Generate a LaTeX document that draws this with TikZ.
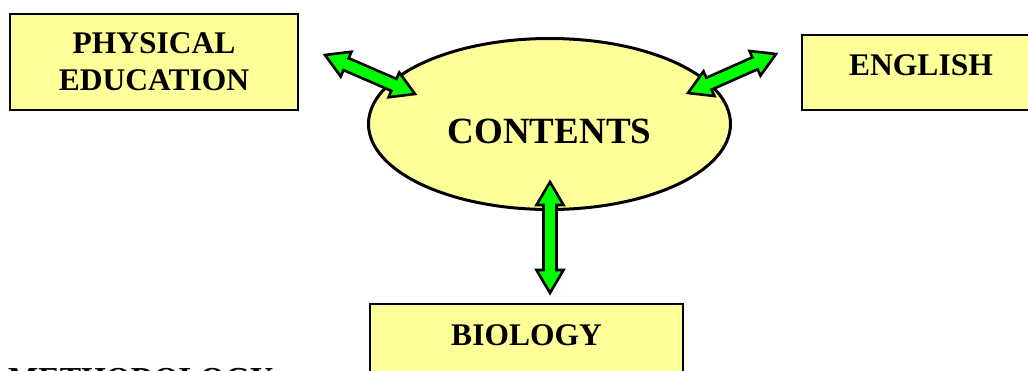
\documentclass[tikz,border=0pt]{standalone}
\usepackage{fontspec}
\setmainfont{Liberation Serif}
\usetikzlibrary{calc,shapes.geometric}
\definecolor{boxyellow}{HTML}{FFFF99}
\definecolor{arrowgreen}{HTML}{00FF00}
\tikzset{
  box/.style={draw=black, line width=1.6pt, fill=boxyellow, inner sep=0pt,
    font=\fontsize{31.5}{37}\selectfont\bfseries},
  fatarrowstyle/.style={draw=black, line width=2.6pt, fill=arrowgreen, line join=miter},
}
\newcommand\fatarrow[2]{%
 \draw[fatarrowstyle] (#1) -- ($(#1)!26.67pt!30.41:(#2)$) -- ($(#1)!23.9pt!15.78:(#2)$)
   -- ($(#2)!23.9pt!-15.78:(#1)$) -- ($(#2)!26.67pt!-30.41:(#1)$) -- (#2)
   -- ($(#2)!26.67pt!30.41:(#1)$) -- ($(#2)!23.9pt!15.78:(#1)$)
   -- ($(#1)!23.9pt!-15.78:(#2)$) -- ($(#1)!26.67pt!-30.41:(#2)$) -- cycle;}
\begin{document}
\begin{tikzpicture}[x=1pt,y=1pt]
\useasboundingbox (0,0) rectangle (1028,-370);
\clip (0,0) rectangle (1028,-370);
% boxes
\node[box, minimum width=288, minimum height=96, align=center] (pe) at (154,-62) {PHYSICAL\\EDUCATION};
\node[box, minimum width=238, text height=40, text depth=35, anchor=base] (en) at (921,-75) {ENGLISH};
\node[box, minimum width=313, text height=41, text depth=40, anchor=base] (bio) at (526.5,-345) {BIOLOGY};
% ellipse
\node[ellipse, draw=black, line width=3pt, fill=boxyellow, minimum width=362, minimum height=171,
  text height=38, text depth=0, inner sep=0pt, font=\fontsize{37}{40}\selectfont\bfseries] (ct) at (549.5,-124) {CONTENTS};
% cut-off heading
\node[anchor=base west, inner sep=0pt, font=\fontsize{32}{32}\selectfont\bfseries] (meth) at (8,-389.5) {METHODOLOGY};
% arrow ends
\coordinate (l1) at (325,-55);
\coordinate (l2) at (415,-94);
\coordinate (r1) at (688,-93);
\coordinate (r2) at (776,-54);
\coordinate (v1) at (550,-182);
\coordinate (v2) at (550,-293);
\fatarrow{l1}{l2}
\fatarrow{r1}{r2}
\fatarrow{v1}{v2}
\end{tikzpicture}
\end{document}
